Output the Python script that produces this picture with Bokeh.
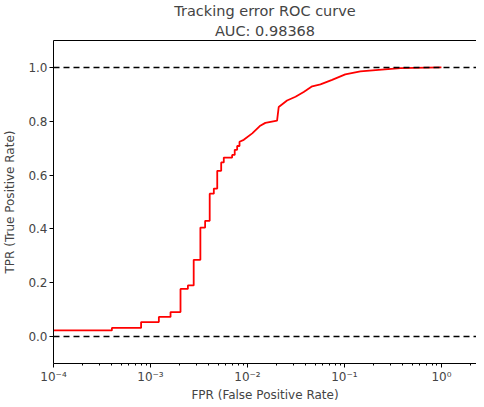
from bokeh.plotting import figure
from bokeh.embed import file_html
from bokeh.resources import INLINE
from bokeh.models import (FixedTicker, PrintfTickFormatter, CustomJSTickFormatter,
                          Span, Title, LogAxis, Range1d)

# ---- data ----
fpr = [1e-4, 4.0e-4, 4.0e-4, 8.0e-4, 8.0e-4, 1.22e-3, 1.22e-3, 1.61e-3, 1.61e-3,
       2.04e-3, 2.04e-3, 2.43e-3, 2.43e-3, 2.79e-3, 2.79e-3, 3.27e-3, 3.27e-3,
       3.66e-3, 3.66e-3, 4.08e-3, 4.08e-3, 4.50e-3, 4.50e-3, 4.88e-3, 4.88e-3,
       5.36e-3, 5.36e-3, 5.70e-3, 5.70e-3, 6.95e-3, 6.95e-3, 7.39e-3, 7.39e-3,
       7.83e-3, 7.83e-3, 8.28e-3, 8.28e-3, 9.16e-3, 1.12e-2, 1.34e-2, 1.53e-2,
       2.02e-2, 2.10e-2, 2.56e-2, 3.13e-2, 3.80e-2, 4.65e-2, 5.66e-2, 7.46e-2,
       0.102, 0.146, 0.226, 0.377, 1.0]
tpr = [0.023, 0.023, 0.032, 0.032, 0.054, 0.054, 0.073, 0.073, 0.091, 0.091,
       0.177, 0.177, 0.19, 0.19, 0.285, 0.285, 0.405, 0.405, 0.43, 0.43, 0.531,
       0.531, 0.55, 0.55, 0.616, 0.616, 0.647, 0.647, 0.665, 0.665, 0.675, 0.675,
       0.694, 0.694, 0.708, 0.708, 0.724, 0.731, 0.755, 0.782, 0.794, 0.802,
       0.853, 0.877, 0.891, 0.909, 0.930, 0.937, 0.954, 0.974, 0.985, 0.991,
       0.997, 1.0]
x_ticks = [1e-4, 1e-3, 1e-2, 1e-1, 1e0]
y_ticks = [0.0, 0.2, 0.4, 0.6, 0.8, 1.0]
ref_lines = [0.0, 1.0]
title_line1 = "Tracking error ROC curve"
title_line2 = "AUC: 0.98368"

FONT = "DejaVu Sans"
TICK_FS = "12px"
TITLE_FS = "14.5px"

p = figure(frame_width=423, frame_height=323, x_axis_type="log",
           x_range=Range1d(1e-4, 2.3), y_range=Range1d(-0.1, 1.1),
           output_backend="svg", toolbar_location=None,
           min_border_left=45, min_border_right=0, min_border_top=32,
           min_border_bottom=0, title=None)
p.outline_line_color = None
p.background_fill_color = "white"
p.border_fill_color = "white"
p.xgrid.visible = False
p.ygrid.visible = False

p.line(fpr, tpr, line_color="red", line_width=1.8)

for loc in ref_lines:
    p.add_layout(Span(location=loc, dimension="width", line_color="black",
                      line_dash="6 4", line_width=1.5))

# minor ticks on log x axis
minor = []
for d in range(-4, 1):
    for m in range(2, 10):
        minor.append(m * 10.0 ** d)

xa = p.xaxis[0]
xa.ticker = FixedTicker(ticks=x_ticks, minor_ticks=minor)
xa.formatter = CustomJSTickFormatter(code="""
const e = Math.round(Math.log10(tick));
const sup = {'-':'\u207b','0':'\u2070','1':'\u00b9','2':'\u00b2','3':'\u00b3','4':'\u2074','5':'\u2075','6':'\u2076','7':'\u2077','8':'\u2078','9':'\u2079'};
return '10' + String(e).split('').map(c => sup[c]).join('');
""")
xa.axis_label = "FPR (False Positive Rate)"

ya = p.yaxis[0]
ya.ticker = FixedTicker(ticks=y_ticks)
ya.formatter = PrintfTickFormatter(format="%.1f")
ya.axis_label = "TPR (True Positive Rate)"

for ax in (xa, ya):
    ax.axis_line_color = "black"
    ax.axis_line_width = 1
    ax.major_tick_in = 0
    ax.major_tick_out = 4
    ax.minor_tick_in = 0
    ax.minor_tick_out = 2
    ax.major_label_text_font = FONT
    ax.major_label_text_font_size = TICK_FS
    ax.axis_label_text_font = FONT
    ax.axis_label_text_font_size = TICK_FS
    ax.axis_label_text_font_style = "normal"
    ax.major_label_standoff = 2
    ax.axis_label_standoff = 1
ya.minor_tick_out = 0
ya.axis_label_standoff = 8

top = LogAxis(ticker=FixedTicker(ticks=[]), axis_line_color="black",
              major_tick_out=0, minor_tick_out=0, major_label_text_font_size="0px")
p.add_layout(top, "above")
p.add_layout(Title(text=title_line2, align="center", text_font=FONT,
                   text_font_size=TITLE_FS, text_font_style="normal", standoff=4),
             "above")
p.add_layout(Title(text=title_line1, align="center", text_font=FONT,
                   text_font_size=TITLE_FS, text_font_style="normal", standoff=0),
             "above")

open("out.html", "w").write(file_html(p, INLINE))
